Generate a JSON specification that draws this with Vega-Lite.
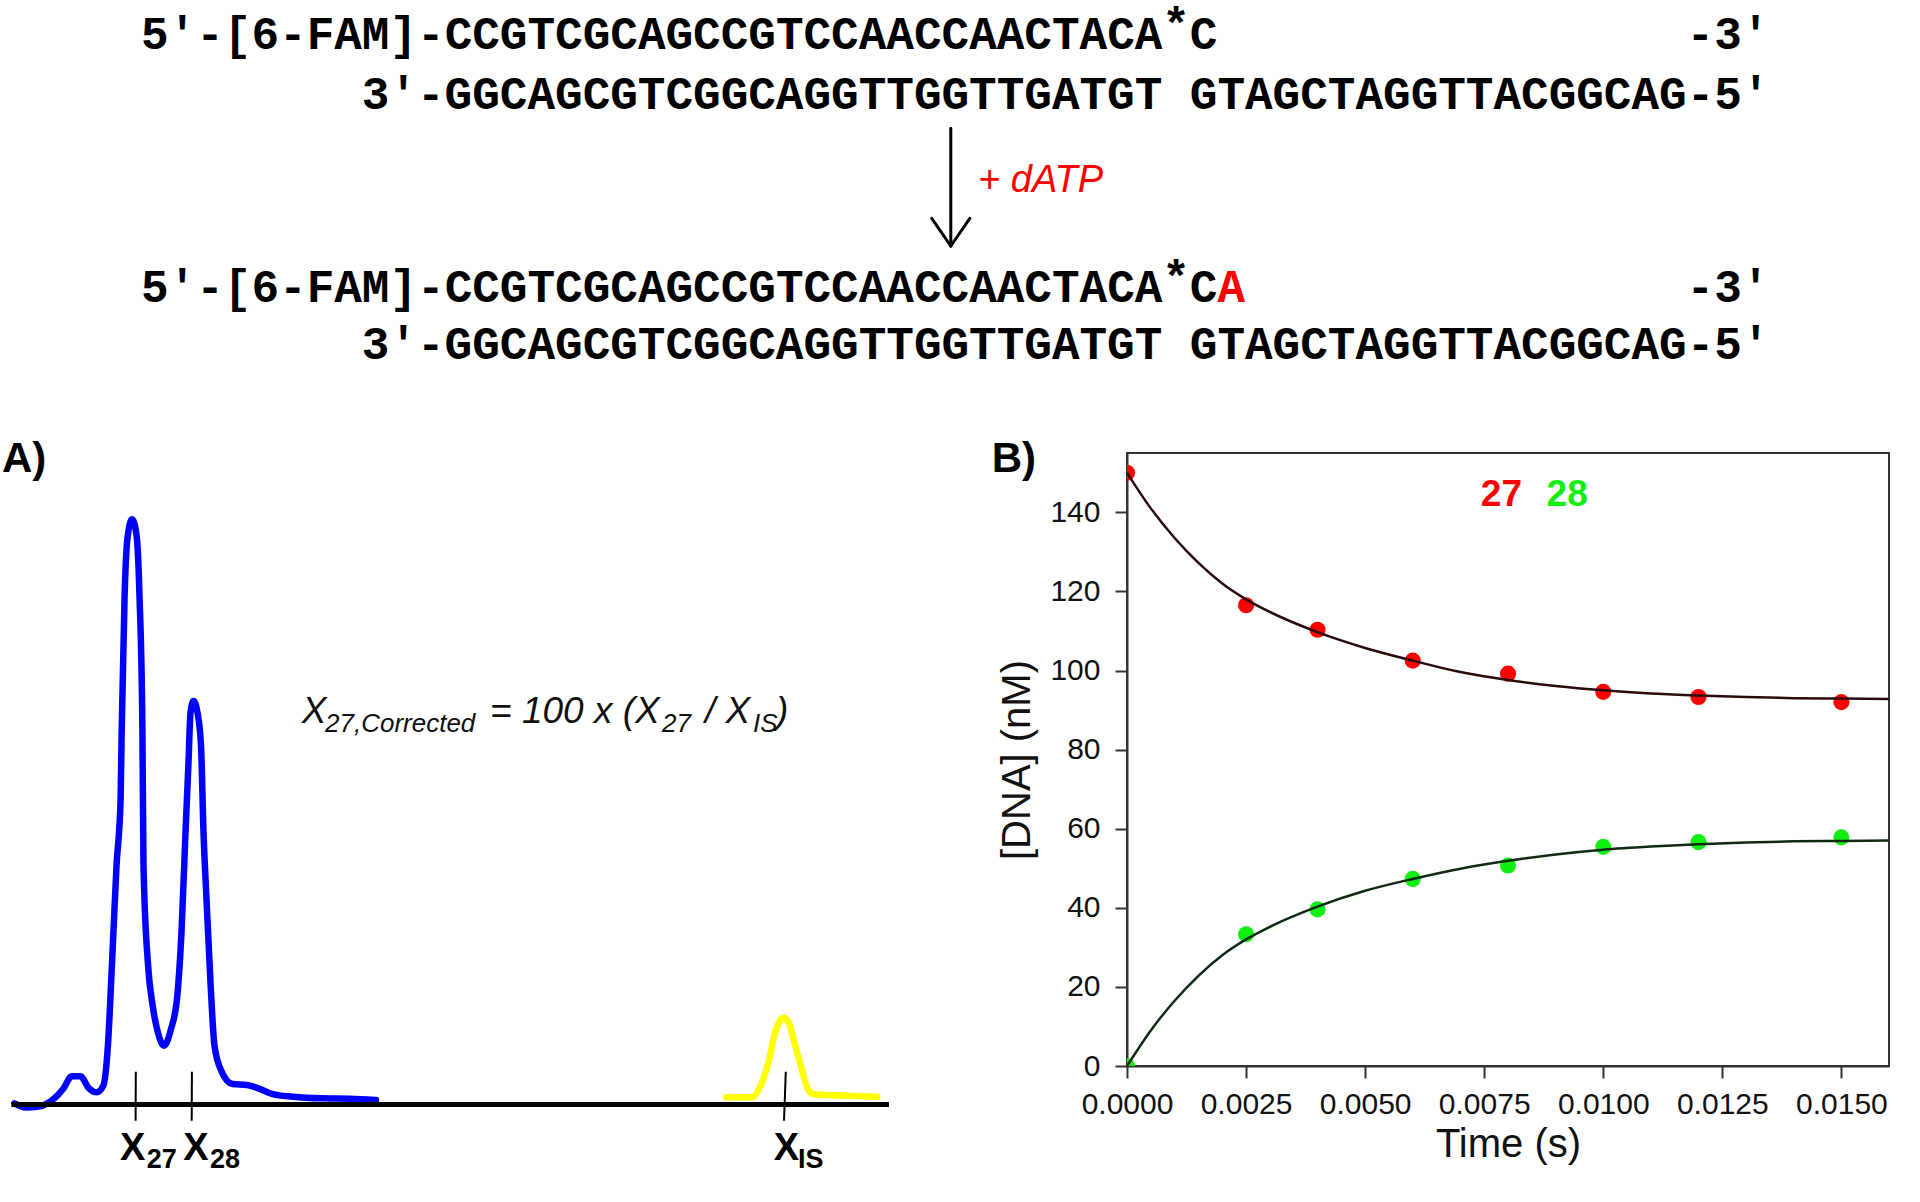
{
  "$schema": "https://vega.github.io/schema/vega-lite/v6.json",
  "padding": 0,
  "background": "white",
  "spacing": 0,
  "bounds": "flush",
  "config": {
    "font": "Liberation Sans",
    "view": {"stroke": null},
    "axis": {
      "labelFont": "Liberation Sans",
      "titleFont": "Liberation Sans",
      "labelFontSize": 30,
      "titleFontSize": 40,
      "titleFontWeight": "normal",
      "labelColor": "#111111",
      "titleColor": "#111111",
      "domainColor": "#333333",
      "tickColor": "#333333",
      "domainWidth": 2,
      "tickWidth": 2,
      "tickSize": 12,
      "grid": false
    }
  },
  "datasets": {
    "seq": [
      {"col": 0, "line_pos": 1.04, "txt": "5'-[6-FAM]-CCGTCGCAGCCGTCCAACCAACTACA"},
      {"col": 38, "line_pos": 1.04, "txt": "C"},
      {"col": 56, "line_pos": 1.04, "txt": "-3'"},
      {"col": 8, "line_pos": 2.31, "txt": "3'-GGCAGCGTCGGCAGGTTGGTTGATGT"},
      {"col": 38, "line_pos": 2.31, "txt": "GTAGCTAGGTTACGGCAG-5'"},
      {"col": 0, "line_pos": 6.42, "txt": "5'-[6-FAM]-CCGTCGCAGCCGTCCAACCAACTACA"},
      {"col": 38, "line_pos": 6.42, "txt": "C"},
      {"col": 56, "line_pos": 6.42, "txt": "-3'"},
      {"col": 8, "line_pos": 7.64, "txt": "3'-GGCAGCGTCGGCAGGTTGGTTGATGT"},
      {"col": 38, "line_pos": 7.64, "txt": "GTAGCTAGGTTACGGCAG-5'"}
    ],
    "stars": [
      {"col": 37, "line_pos": 1.04, "txt": "*"},
      {"col": 37, "line_pos": 6.42, "txt": "*"}
    ],
    "added": [
      {"col": 39, "line_pos": 6.42, "txt": "A"}
    ],
    "reagent": [
      {"col": 30.33, "line_pos": 4.079, "txt": "+ dATP"}
    ],
    "arrow": [
      {"col": 29.34, "col2": 29.34, "line_pos": 2.73, "line_pos2": 5.234},
      {"col": 29.34, "col2": 28.65, "line_pos": 5.234, "line_pos2": 4.645},
      {"col": 29.34, "col2": 30.03, "line_pos": 5.234, "line_pos2": 4.645}
    ],
    "trace_blue": [
      {"mig": 1.44, "rfu": 0}, {"mig": 2.58, "rfu": -0.7}, {"mig": 4.02, "rfu": -0.5},
      {"mig": 5.17, "rfu": 0.45}, {"mig": 6.31, "rfu": 2.46}, {"mig": 7.18, "rfu": 4.65},
      {"mig": 8.04, "rfu": 4.65}, {"mig": 8.9, "rfu": 2.58}, {"mig": 9.64, "rfu": 1.89},
      {"mig": 10.33, "rfu": 3.03}, {"mig": 10.79, "rfu": 9.92}, {"mig": 11.19, "rfu": 23.7},
      {"mig": 11.65, "rfu": 40.9}, {"mig": 12.06, "rfu": 52.4}, {"mig": 12.17, "rfu": 64.5},
      {"mig": 12.46, "rfu": 87.4}, {"mig": 12.74, "rfu": 97.2}, {"mig": 13.2, "rfu": 100.6},
      {"mig": 13.66, "rfu": 97.8}, {"mig": 13.95, "rfu": 87.4}, {"mig": 14.24, "rfu": 64.5},
      {"mig": 14.35, "rfu": 40.9}, {"mig": 14.81, "rfu": 23.7}, {"mig": 15.27, "rfu": 16.8},
      {"mig": 15.79, "rfu": 12.2}, {"mig": 16.4, "rfu": 9.92}, {"mig": 17.1, "rfu": 12.8},
      {"mig": 17.7, "rfu": 18.0}, {"mig": 18.15, "rfu": 29.5}, {"mig": 18.55, "rfu": 46.7},
      {"mig": 18.85, "rfu": 58.7}, {"mig": 19.05, "rfu": 67.3}, {"mig": 19.35, "rfu": 69.3},
      {"mig": 19.75, "rfu": 67.3}, {"mig": 20.1, "rfu": 61.6}, {"mig": 20.35, "rfu": 46.7},
      {"mig": 20.65, "rfu": 35.2}, {"mig": 21.05, "rfu": 20.8}, {"mig": 21.45, "rfu": 9.92},
      {"mig": 22.2, "rfu": 5.34}, {"mig": 23.25, "rfu": 3.32}, {"mig": 24.68, "rfu": 3.15},
      {"mig": 25.83, "rfu": 2.58}, {"mig": 27.27, "rfu": 1.6}, {"mig": 29.28, "rfu": 1.14},
      {"mig": 32.15, "rfu": 0.86}, {"mig": 35.02, "rfu": 0.8}, {"mig": 37.6, "rfu": 0.57}
    ],
    "trace_yellow": [
      {"mig": 72.62, "rfu": 1.03}, {"mig": 75.2, "rfu": 1.03}, {"mig": 76.06, "rfu": 3.04},
      {"mig": 76.92, "rfu": 7.63}, {"mig": 77.5, "rfu": 12.2}, {"mig": 77.9, "rfu": 13.95},
      {"mig": 78.36, "rfu": 14.8}, {"mig": 78.93, "rfu": 13.66}, {"mig": 79.51, "rfu": 9.92},
      {"mig": 80.08, "rfu": 6.48}, {"mig": 80.65, "rfu": 3.04}, {"mig": 81.23, "rfu": 1.6},
      {"mig": 82.66, "rfu": 1.43}, {"mig": 84.96, "rfu": 1.32}, {"mig": 87.72, "rfu": 1.14}
    ],
    "baseline": [
      {"mig": 1.15, "mig2": 88.9, "rfu": -0.2}
    ],
    "peak_ticks": [
      {"mig": 13.58, "mig2": 13.56, "rfu": 5.44, "rfu2": -3.0},
      {"mig": 19.19, "mig2": 19.17, "rfu": 5.44, "rfu2": -3.0},
      {"mig": 78.58, "mig2": 78.4, "rfu": 5.44, "rfu2": -3.0}
    ],
    "peak_labels": [
      {"mig": 12.0, "rfu": -9.77, "txt": "X"},
      {"mig": 18.33, "rfu": -9.77, "txt": "X"},
      {"mig": 77.38, "rfu": -9.77, "txt": "X"}
    ],
    "peak_subs": [
      {"mig": 14.67, "rfu": -11.2, "txt": "27"},
      {"mig": 21.0, "rfu": -11.2, "txt": "28"},
      {"mig": 79.8, "rfu": -11.2, "txt": "IS"}
    ],
    "formula_main": [
      {"mig": 30.17, "rfu": 65.45, "txt": "X"},
      {"mig": 49.0, "rfu": 65.45, "txt": "= 100 x (X"},
      {"mig": 70.5, "rfu": 65.45, "txt": "/ X"},
      {"mig": 77.6, "rfu": 65.45, "txt": ")"}
    ],
    "formula_sub": [
      {"mig": 32.5, "rfu": 64.0, "txt": "27,Corrected"},
      {"mig": 66.2, "rfu": 64.0, "txt": "27"},
      {"mig": 75.3, "rfu": 64.0, "txt": "IS"}
    ],
    "panel_tags": [
      {"mig": 0.2, "rfu": 108.78, "txt": "A)"},
      {"mig": 99.17, "rfu": 108.78, "txt": "B)"}
    ],
    "pts": [
      {"t": 0, "conc": 150.0, "species": "27"},
      {"t": 0.0025, "conc": 116.5, "species": "27"},
      {"t": 0.004, "conc": 110.3, "species": "27"},
      {"t": 0.006, "conc": 102.5, "species": "27"},
      {"t": 0.008, "conc": 99.2, "species": "27"},
      {"t": 0.01, "conc": 94.6, "species": "27"},
      {"t": 0.012, "conc": 93.3, "species": "27"},
      {"t": 0.015, "conc": 92.0, "species": "27"},
      {"t": 0, "conc": 0.0, "species": "28"},
      {"t": 0.0025, "conc": 33.3, "species": "28"},
      {"t": 0.004, "conc": 39.6, "species": "28"},
      {"t": 0.006, "conc": 47.3, "species": "28"},
      {"t": 0.008, "conc": 50.7, "species": "28"},
      {"t": 0.01, "conc": 55.4, "species": "28"},
      {"t": 0.012, "conc": 56.6, "species": "28"},
      {"t": 0.015, "conc": 57.8, "species": "28"}
    ],
    "fit": [
      {"t": 0, "conc": 150.0, "species": "27"},
      {"t": 0.0005, "conc": 141.0, "species": "27"},
      {"t": 0.001, "conc": 133.5, "species": "27"},
      {"t": 0.0015, "conc": 127.2, "species": "27"},
      {"t": 0.002, "conc": 122.0, "species": "27"},
      {"t": 0.0025, "conc": 118.0, "species": "27"},
      {"t": 0.003, "conc": 114.8, "species": "27"},
      {"t": 0.004, "conc": 109.7, "species": "27"},
      {"t": 0.005, "conc": 105.7, "species": "27"},
      {"t": 0.006, "conc": 102.5, "species": "27"},
      {"t": 0.007, "conc": 99.6, "species": "27"},
      {"t": 0.008, "conc": 97.6, "species": "27"},
      {"t": 0.009, "conc": 96.1, "species": "27"},
      {"t": 0.01, "conc": 95.0, "species": "27"},
      {"t": 0.011, "conc": 94.2, "species": "27"},
      {"t": 0.012, "conc": 93.7, "species": "27"},
      {"t": 0.013, "conc": 93.3, "species": "27"},
      {"t": 0.014, "conc": 93.0, "species": "27"},
      {"t": 0.015, "conc": 92.9, "species": "27"},
      {"t": 0.016, "conc": 92.8, "species": "27"},
      {"t": 0, "conc": 0.0, "species": "28"},
      {"t": 0.0005, "conc": 9.0, "species": "28"},
      {"t": 0.001, "conc": 16.5, "species": "28"},
      {"t": 0.0015, "conc": 22.8, "species": "28"},
      {"t": 0.002, "conc": 28.0, "species": "28"},
      {"t": 0.0025, "conc": 32.0, "species": "28"},
      {"t": 0.003, "conc": 35.2, "species": "28"},
      {"t": 0.004, "conc": 40.3, "species": "28"},
      {"t": 0.005, "conc": 44.3, "species": "28"},
      {"t": 0.006, "conc": 47.3, "species": "28"},
      {"t": 0.007, "conc": 49.9, "species": "28"},
      {"t": 0.008, "conc": 51.9, "species": "28"},
      {"t": 0.009, "conc": 53.5, "species": "28"},
      {"t": 0.01, "conc": 54.7, "species": "28"},
      {"t": 0.011, "conc": 55.5, "species": "28"},
      {"t": 0.012, "conc": 56.1, "species": "28"},
      {"t": 0.013, "conc": 56.5, "species": "28"},
      {"t": 0.014, "conc": 56.8, "species": "28"},
      {"t": 0.015, "conc": 56.9, "species": "28"},
      {"t": 0.016, "conc": 57.0, "species": "28"}
    ],
    "key": [
      {"t": 0.00743, "conc": 141.6, "species": "27"},
      {"t": 0.00881, "conc": 141.6, "species": "28"}
    ]
  },
  "vconcat": [
    {
      "width": 1920,
      "height": 453,
      "layer": [
        {
          "data": {"name": "seq"},
          "mark": {"type": "text", "font": "Liberation Mono", "fontWeight": "bold", "fontSize": 46, "align": "left", "baseline": "alphabetic", "color": "#000000"},
          "encoding": {
            "x": {"field": "col", "type": "quantitative", "scale": {"domain": [-5.1087, 64.4565], "nice": false, "zero": false}, "axis": null},
            "y": {"field": "line_pos", "type": "quantitative", "scale": {"domain": [0, 9.6383], "nice": false, "zero": false, "reverse": true}, "axis": null},
            "text": {"field": "txt"}
          }
        },
        {
          "data": {"name": "stars"},
          "mark": {"type": "text", "font": "Liberation Mono", "fontWeight": "bold", "fontSize": 46, "align": "left", "baseline": "alphabetic", "dy": -9, "color": "#000000"},
          "encoding": {
            "x": {"field": "col", "type": "quantitative", "scale": {"domain": [-5.1087, 64.4565], "nice": false, "zero": false}, "axis": null},
            "y": {"field": "line_pos", "type": "quantitative", "scale": {"domain": [0, 9.6383], "nice": false, "zero": false, "reverse": true}, "axis": null},
            "text": {"field": "txt"}
          }
        },
        {
          "data": {"name": "added"},
          "mark": {"type": "text", "font": "Liberation Mono", "fontWeight": "bold", "fontSize": 46, "align": "left", "baseline": "alphabetic", "color": "#ff0000"},
          "encoding": {
            "x": {"field": "col", "type": "quantitative", "scale": {"domain": [-5.1087, 64.4565], "nice": false, "zero": false}, "axis": null},
            "y": {"field": "line_pos", "type": "quantitative", "scale": {"domain": [0, 9.6383], "nice": false, "zero": false, "reverse": true}, "axis": null},
            "text": {"field": "txt"}
          }
        },
        {
          "data": {"name": "reagent"},
          "mark": {"type": "text", "font": "Liberation Sans", "fontStyle": "italic", "fontSize": 38, "align": "left", "baseline": "alphabetic", "color": "#ff0000"},
          "encoding": {
            "x": {"field": "col", "type": "quantitative", "scale": {"domain": [-5.1087, 64.4565], "nice": false, "zero": false}, "axis": null},
            "y": {"field": "line_pos", "type": "quantitative", "scale": {"domain": [0, 9.6383], "nice": false, "zero": false, "reverse": true}, "axis": null},
            "text": {"field": "txt"}
          }
        },
        {
          "data": {"name": "arrow"},
          "mark": {"type": "rule", "color": "#000000", "strokeWidth": 3, "strokeCap": "round"},
          "encoding": {
            "x": {"field": "col", "type": "quantitative", "scale": {"domain": [-5.1087, 64.4565], "nice": false, "zero": false}, "axis": null},
            "x2": {"field": "col2"},
            "y": {"field": "line_pos", "type": "quantitative", "scale": {"domain": [0, 9.6383], "nice": false, "zero": false, "reverse": true}, "axis": null},
            "y2": {"field": "line_pos2"}
          }
        }
      ]
    },
    {
      "spacing": 127,
      "bounds": "flush",
      "hconcat": [
        {
          "width": 1000,
          "height": 720,
          "layer": [
            {
              "data": {"name": "trace_blue"},
              "mark": {"type": "line", "color": "#0000ff", "strokeWidth": 6.5, "interpolate": "monotone", "strokeJoin": "round", "strokeCap": "round"},
              "encoding": {
                "x": {"field": "mig", "type": "quantitative", "scale": {"domain": [0, 100], "nice": false, "zero": false}, "axis": null},
                "y": {"field": "rfu", "type": "quantitative", "scale": {"domain": [-12, 112], "nice": false, "zero": false}, "axis": null}
              }
            },
            {
              "data": {"name": "trace_yellow"},
              "mark": {"type": "line", "color": "#ffff00", "strokeWidth": 6.5, "interpolate": "monotone", "strokeJoin": "round", "strokeCap": "round"},
              "encoding": {
                "x": {"field": "mig", "type": "quantitative", "scale": {"domain": [0, 100], "nice": false, "zero": false}, "axis": null},
                "y": {"field": "rfu", "type": "quantitative", "scale": {"domain": [-12, 112], "nice": false, "zero": false}, "axis": null}
              }
            },
            {
              "data": {"name": "baseline"},
              "mark": {"type": "rule", "color": "#000000", "strokeWidth": 5},
              "encoding": {
                "x": {"field": "mig", "type": "quantitative", "scale": {"domain": [0, 100], "nice": false, "zero": false}, "axis": null},
                "x2": {"field": "mig2"},
                "y": {"field": "rfu", "type": "quantitative", "scale": {"domain": [-12, 112], "nice": false, "zero": false}, "axis": null}
              }
            },
            {
              "data": {"name": "peak_ticks"},
              "mark": {"type": "rule", "color": "#000000", "strokeWidth": 2},
              "encoding": {
                "x": {"field": "mig", "type": "quantitative", "scale": {"domain": [0, 100], "nice": false, "zero": false}, "axis": null},
                "x2": {"field": "mig2"},
                "y": {"field": "rfu", "type": "quantitative", "scale": {"domain": [-12, 112], "nice": false, "zero": false}, "axis": null},
                "y2": {"field": "rfu2"}
              }
            },
            {
              "data": {"name": "peak_labels"},
              "mark": {"type": "text", "fontWeight": "bold", "fontSize": 38, "align": "left", "baseline": "alphabetic", "color": "#000000"},
              "encoding": {
                "x": {"field": "mig", "type": "quantitative", "scale": {"domain": [0, 100], "nice": false, "zero": false}, "axis": null},
                "y": {"field": "rfu", "type": "quantitative", "scale": {"domain": [-12, 112], "nice": false, "zero": false}, "axis": null},
                "text": {"field": "txt"}
              }
            },
            {
              "data": {"name": "peak_subs"},
              "mark": {"type": "text", "fontWeight": "bold", "fontSize": 27, "align": "left", "baseline": "alphabetic", "color": "#000000"},
              "encoding": {
                "x": {"field": "mig", "type": "quantitative", "scale": {"domain": [0, 100], "nice": false, "zero": false}, "axis": null},
                "y": {"field": "rfu", "type": "quantitative", "scale": {"domain": [-12, 112], "nice": false, "zero": false}, "axis": null},
                "text": {"field": "txt"}
              }
            },
            {
              "data": {"name": "formula_main"},
              "mark": {"type": "text", "fontStyle": "italic", "fontSize": 37, "align": "left", "baseline": "alphabetic", "color": "#111111"},
              "encoding": {
                "x": {"field": "mig", "type": "quantitative", "scale": {"domain": [0, 100], "nice": false, "zero": false}, "axis": null},
                "y": {"field": "rfu", "type": "quantitative", "scale": {"domain": [-12, 112], "nice": false, "zero": false}, "axis": null},
                "text": {"field": "txt"}
              }
            },
            {
              "data": {"name": "formula_sub"},
              "mark": {"type": "text", "fontStyle": "italic", "fontSize": 26, "align": "left", "baseline": "alphabetic", "color": "#111111"},
              "encoding": {
                "x": {"field": "mig", "type": "quantitative", "scale": {"domain": [0, 100], "nice": false, "zero": false}, "axis": null},
                "y": {"field": "rfu", "type": "quantitative", "scale": {"domain": [-12, 112], "nice": false, "zero": false}, "axis": null},
                "text": {"field": "txt"}
              }
            },
            {
              "data": {"name": "panel_tags"},
              "mark": {"type": "text", "fontWeight": "bold", "fontSize": 42, "align": "left", "baseline": "alphabetic", "color": "#000000"},
              "encoding": {
                "x": {"field": "mig", "type": "quantitative", "scale": {"domain": [0, 100], "nice": false, "zero": false}, "axis": null},
                "y": {"field": "rfu", "type": "quantitative", "scale": {"domain": [-12, 112], "nice": false, "zero": false}, "axis": null},
                "text": {"field": "txt"}
              }
            }
          ]
        },
        {
          "width": 762,
          "height": 613,
          "view": {"stroke": "#333333", "strokeWidth": 2},
          "layer": [
            {
              "data": {"name": "pts"},
              "mark": {"type": "circle", "size": 260, "opacity": 1, "clip": true},
              "encoding": {
                "x": {"field": "t", "type": "quantitative", "scale": {"domain": [0, 0.016], "nice": false, "zero": false},
                  "axis": {"title": "Time (s)", "values": [0, 0.0025, 0.005, 0.0075, 0.01, 0.0125, 0.015], "format": ".4f", "labelFlush": false, "labelOverlap": false, "labelPadding": 11, "titlePadding": 5}},
                "y": {"field": "conc", "type": "quantitative", "scale": {"domain": [0, 155], "nice": false, "zero": false},
                  "axis": {"title": "[DNA] (nM)", "values": [0, 20, 40, 60, 80, 100, 120, 140], "labelPadding": 15, "titlePadding": 12}},
                "color": {"field": "species", "type": "nominal", "scale": {"domain": ["27", "28"], "range": ["#ff0000", "#11ee11"]}, "legend": null}
              }
            },
            {
              "data": {"name": "fit"},
              "transform": [{"filter": "datum.species == '27'"}],
              "mark": {"type": "line", "color": "#2a0a0a", "strokeWidth": 2.5, "interpolate": "monotone", "clip": true},
              "encoding": {
                "x": {"field": "t", "type": "quantitative"},
                "y": {"field": "conc", "type": "quantitative"}
              }
            },
            {
              "data": {"name": "fit"},
              "transform": [{"filter": "datum.species == '28'"}],
              "mark": {"type": "line", "color": "#0f2a10", "strokeWidth": 2.5, "interpolate": "monotone", "clip": true},
              "encoding": {
                "x": {"field": "t", "type": "quantitative"},
                "y": {"field": "conc", "type": "quantitative"}
              }
            },
            {
              "data": {"name": "key"},
              "mark": {"type": "text", "fontWeight": "bold", "fontSize": 37, "align": "left", "baseline": "alphabetic"},
              "encoding": {
                "x": {"field": "t", "type": "quantitative"},
                "y": {"field": "conc", "type": "quantitative"},
                "text": {"field": "species"},
                "color": {"field": "species", "type": "nominal", "scale": {"domain": ["27", "28"], "range": ["#ff0000", "#11ee11"]}, "legend": null}
              }
            }
          ]
        }
      ]
    }
  ]
}
